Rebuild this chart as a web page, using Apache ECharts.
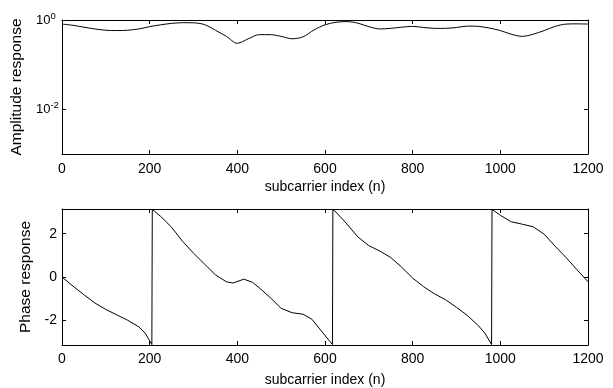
<!DOCTYPE html>
<html>
<head>
<meta charset="utf-8">
<script src="https://cdn.jsdelivr.net/npm/echarts@6/dist/echarts.min.js"></script>
<style>
  html, body { margin: 0; padding: 0; background: #fff; }
  #chart { width: 613px; height: 388px; }
</style>
</head>
<body>
<div id="chart"></div>
<script>
// Channel frequency response over 1200 subcarriers
const ampIndex = [0, 25, 50, 75, 100, 125, 150, 175, 200, 225, 250, 275, 300, 325, 350, 375,
  400, 425, 450, 475, 500, 525, 550, 575, 600, 625, 650, 675, 700, 725, 750, 775, 800, 825,
  850, 875, 900, 925, 950, 975, 1000, 1025, 1050, 1075, 1100, 1125, 1150, 1175, 1200];
const ampValues = [0.81, 0.76, 0.69, 0.63, 0.59, 0.58, 0.59, 0.63, 0.71, 0.78, 0.84, 0.87,
  0.865, 0.79, 0.59, 0.43, 0.30, 0.38, 0.47, 0.47, 0.43, 0.38, 0.42, 0.60, 0.78, 0.89, 0.92,
  0.85, 0.71, 0.63, 0.65, 0.69, 0.72, 0.68, 0.65, 0.65, 0.68, 0.73, 0.72, 0.66, 0.58, 0.48,
  0.43, 0.48, 0.58, 0.72, 0.81, 0.82, 0.81];

// Wrapped phase (radians); the jumps from -pi to pi are kept as consecutive samples
const phaseIndex = [0, 25, 50, 75, 100, 125, 150, 175, 190, 200, 205, 206, 225, 250, 275, 300,
  325, 350, 375, 390, 415, 435, 450, 475, 500, 525, 550, 570, 590, 610, 617, 618, 625, 650,
  675, 700, 725, 750, 775, 800, 825, 850, 875, 900, 925, 950, 965, 980, 981, 1000, 1025, 1050,
  1075, 1100, 1125, 1150, 1175, 1200];
const phaseValues = [0, -0.42, -0.82, -1.2, -1.5, -1.75, -2.0, -2.3, -2.6, -2.95, -3.12, 3.12,
  2.8, 2.3, 1.65, 1.1, 0.6, 0.1, -0.22, -0.28, -0.1, -0.25, -0.5, -0.95, -1.45, -1.65, -1.72,
  -1.95, -2.45, -2.95, -3.12, 3.12, 3.0, 2.45, 1.85, 1.45, 1.2, 0.9, 0.45, -0.05, -0.45, -0.78,
  -1.05, -1.4, -1.78, -2.25, -2.6, -3.12, 3.12, 2.85, 2.55, 2.44, 2.32, 1.98, 1.42, 0.9, 0.33,
  -0.22];

const xTicks = [0, 200, 400, 600, 800, 1000, 1200];
const ampTicks = [1, 0.01];
const phaseTicks = [-2, 0, 2];
const xLabel = 'subcarrier index (n)';
const ampLabel = 'Amplitude response';
const phaseLabel = 'Phase response';

const FONT = 'Liberation Sans, Arial, sans-serif';
const INK = '#000';

const zip = (xs, ys) => xs.map((x, i) => [x, ys[i]]);

function xAxisFor(grid, position, withText, labelGap, nameGap) {
  return {
    type: 'value', gridIndex: grid, position: position,
    min: 0, max: 1200,
    name: withText ? xLabel : '',
    nameLocation: 'middle', nameGap: nameGap,
    nameTextStyle: { fontFamily: FONT, fontSize: 14, color: INK },
    axisLine: { show: true, onZero: false, lineStyle: { color: INK, width: 1 } },
    axisTick: { show: true, inside: true, length: 4, customValues: xTicks, lineStyle: { color: INK } },
    axisLabel: {
      show: withText, customValues: xTicks, margin: labelGap,
      formatter: v => String(v),
      fontFamily: FONT, fontSize: 14, color: INK
    },
    splitLine: { show: false }
  };
}

function logLabel(v) {
  const e = Math.round(Math.log10(v));
  return '{b|10}{s|' + e + '}';
}

function ampAxis(position, withText) {
  return {
    type: 'log', logBase: 10, gridIndex: 0, position: position,
    min: 0.001, max: 1,
    name: withText ? ampLabel : '',
    nameLocation: 'middle', nameGap: 35,
    nameTextStyle: { fontFamily: FONT, fontSize: 15.5, color: INK },
    axisLine: { show: true, onZero: false, lineStyle: { color: INK, width: 1 } },
    axisTick: { show: true, inside: true, length: 4, customValues: ampTicks, lineStyle: { color: INK } },
    axisLabel: {
      show: withText, customValues: ampTicks, margin: 26, align: 'left', formatter: logLabel,
      rich: {
        b: { fontFamily: FONT, fontSize: 13, color: INK },
        s: { fontFamily: FONT, fontSize: 9.5, color: INK, verticalAlign: 'top', padding: [0, 0, 8, 0] }
      }
    },
    splitLine: { show: false }
  };
}

function phaseAxis(position, withText) {
  return {
    type: 'value', gridIndex: 1, position: position,
    min: -Math.PI, max: Math.PI,
    name: withText ? phaseLabel : '',
    nameLocation: 'middle', nameGap: 25,
    nameTextStyle: { fontFamily: FONT, fontSize: 15.5, color: INK },
    axisLine: { show: true, onZero: false, lineStyle: { color: INK, width: 1 } },
    axisTick: { show: true, inside: true, length: 4, customValues: phaseTicks, lineStyle: { color: INK } },
    axisLabel: { show: withText, customValues: phaseTicks, margin: 5, fontFamily: FONT, fontSize: 14, color: INK },
    splitLine: { show: false }
  };
}

const chart = echarts.init(document.getElementById('chart'), null, { renderer: 'canvas' });
chart.setOption({
  animation: false,
  backgroundColor: '#fff',
  grid: [
    { left: 62, top: 20, width: 526, height: 134 },
    { left: 62, top: 209, width: 526, height: 136 }
  ],
  xAxis: [
    xAxisFor(0, 'bottom', true, 8, 26),
    xAxisFor(0, 'top', false, 8, 26),
    xAxisFor(1, 'bottom', true, 7, 28),
    xAxisFor(1, 'top', false, 7, 28)
  ],
  yAxis: [
    ampAxis('left', true),
    ampAxis('right', false),
    phaseAxis('left', true),
    phaseAxis('right', false)
  ],
  series: [
    {
      type: 'line', xAxisIndex: 0, yAxisIndex: 0,
      data: zip(ampIndex, ampValues),
      showSymbol: false, smooth: 0.3,
      lineStyle: { color: INK, width: 1 }
    },
    {
      type: 'line', xAxisIndex: 2, yAxisIndex: 2,
      data: zip(phaseIndex, phaseValues),
      showSymbol: false,
      lineStyle: { color: INK, width: 1 }
    }
  ]
});
</script>
</body>
</html>
